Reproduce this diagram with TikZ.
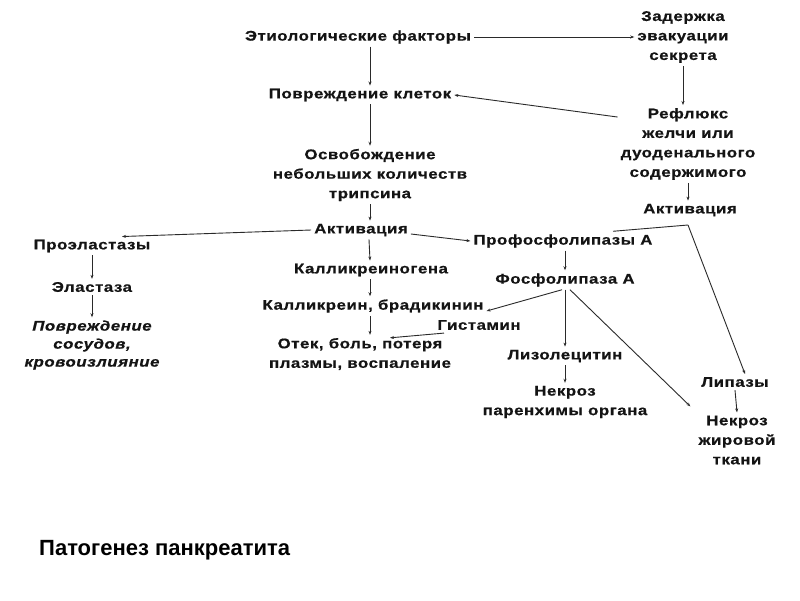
\documentclass[tikz,border=0pt]{standalone}
\usepackage{fontspec}
\setmainfont{Liberation Sans}
\newfontfamily\dgfont[FakeStretch=1.2,LetterSpace=4,FakeBold=0.6]{Liberation Sans}
\usetikzlibrary{arrows.meta,calc}
\definecolor{ink}{HTML}{141414}
\definecolor{wire}{HTML}{2A2A2A}
\tikzset{
  lbl/.style={font=\dgfont\bfseries\fontsize{14}{19.5}\selectfont, text=ink, align=center, inner sep=3pt, yshift=-2pt},
  arr/.style={draw=wire, line width=0.9pt, -{Stealth[length=4pt,width=3pt]}},
  wireline/.style={draw=wire, line width=0.9pt},
}
\begin{document}
\begin{tikzpicture}[x=1pt,y=-1pt]
\useasboundingbox[fill=white] (0,0) rectangle (800,600);
% nodes
\node[lbl] (et)   at (358,35)  {Этиологические факторы};
\node[lbl] (zad)  at (683,35)  {Задержка\\эвакуации\\секрета};
\node[lbl] (pk)   at (360,93)  {Повреждение клеток};
\node[lbl] (ref)  at (688,142) {Рефлюкс\\желчи или\\дуоденального\\содержимого};
\node[lbl] (osv)  at (370,173) {Освобождение\\небольших количеств\\трипсина};
\node[lbl] (akt2) at (690,208) {Активация};
\node[lbl] (akt)  at (361,228) {Активация};
\node[lbl] (proel) at (92,244) {Проэластазы};
\node[lbl] (elas) at (92,285)  {Эластаза};
\node[lbl, font=\dgfont\bfseries\itshape\fontsize{14}{18}\selectfont] (povs) at (92,343) {Повреждение\\сосудов,\\кровоизлияние};
\node[lbl] (kal)  at (371,268) {Калликреиногена};
\node[lbl] (kb)   at (373,304) {Калликреин, брадикинин};
\node[lbl] (gis)  at (479,323) {Гистамин};
\node[lbl] (otek) at (360,352) {Отек, боль, потеря\\плазмы, воспаление};
\node[lbl] (pfl)  at (563,239) {Профосфолипазы А};
\node[lbl] (fl)   at (565,278) {Фосфолипаза А};
\node[lbl] (liz)  at (565,354) {Лизолецитин};
\node[lbl] (nkp)  at (565,400) {Некроз\\паренхимы органа};
\node[lbl] (lip)  at (735,380) {Липазы};
\node[lbl] (nkz)  at (737,438) {Некроз\\жировой\\ткани};
\node[anchor=west, inner sep=0pt, font=\bfseries\fontsize{22}{24}\selectfont, text=black] (title) at (39,550) {Патогенез панкреатита};
\coordinate (k) at (688,225);
% connectors
\draw[arr] (et.east) -- (et.east -| zad.west);
\draw[arr] ([xshift=12pt]et.south) -- ([xshift=10pt]pk.north);
\draw[arr] (zad.south) -- (zad.south |- ref.north);
\draw[arr] ([yshift=-12pt]ref.north west) -- (pk.east);
\draw[arr] (osv.north |- pk.south) -- (osv.north);
\draw[arr] (osv.south) -- (osv.south |- akt.north);
\draw[arr] (ref.south) -- (ref.south |- akt2.north);
\draw[arr] (akt.west) -- ([xshift=30pt]proel.north);
\draw[arr] (proel.south) -- (elas.north);
\draw[arr] (elas.south) -- (povs.north);
\draw[arr] ([xshift=8pt]akt.south) -- ([xshift=-1pt]kal.north);
\draw[arr] ([yshift=-4pt]akt.east) -- (pfl.west);
\draw[arr] ([xshift=-1pt]kal.south) -- ([xshift=-3pt]kb.north);
\draw[arr] ([xshift=-3pt]kb.south) -- ([xshift=10pt]otek.north);
\draw[arr] ([xshift=-35pt]gis.south) -- ([xshift=30pt,yshift=-3pt]otek.north);
\draw[arr] ([xshift=2pt]pfl.south) -- (fl.north);
\draw[arr] ([xshift=-3pt]fl.south) -- ([yshift=-5pt]kb.east);
\draw[arr] (fl.south) -- (liz.north);
\draw[arr] (liz.south) -- (nkp.north);
\draw[arr] ([xshift=5pt]fl.south) -- ([shift={(-5pt,6pt)}]nkz.north west);
\draw[wireline] ([xshift=50pt]pfl.north) -- (k);
\draw[arr] (k) -- ([xshift=10pt]lip.north);
\draw[arr] (lip.south) -- (nkz.north);
\end{tikzpicture}
\end{document}
